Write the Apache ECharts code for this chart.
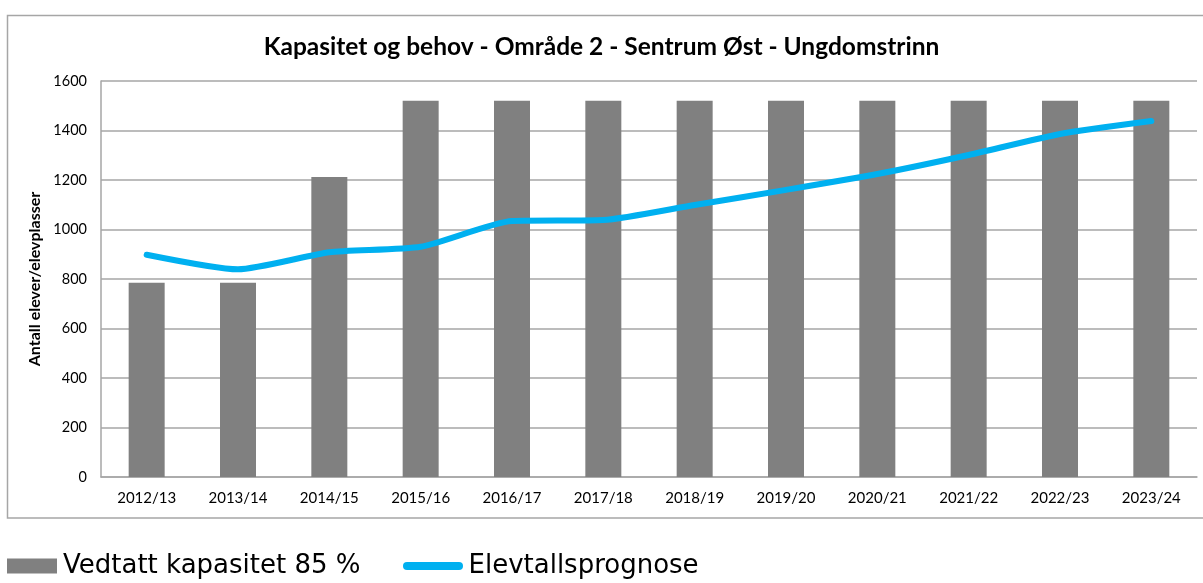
<!DOCTYPE html>
<html>
<head>
<meta charset="utf-8">
<script src="https://cdn.jsdelivr.net/npm/echarts@6/dist/echarts.min.js"></script>
<style>
html,body{margin:0;padding:0;background:#fff;}
#chart{width:1203px;height:583px;}
</style>
</head>
<body>
<div id="chart"></div>
<script>
var categories = ['2012/13','2013/14','2014/15','2015/16','2016/17','2017/18','2018/19','2019/20','2020/21','2021/22','2022/23','2023/24'];
var capacity = [785, 785, 1212, 1520, 1520, 1520, 1520, 1520, 1520, 1520, 1520, 1520];
var forecast = [898, 839, 908, 930, 1034, 1038, 1099, 1160, 1224, 1301, 1386, 1438];
var yTicks = [0, 200, 400, 600, 800, 1000, 1200, 1400, 1600];
var titleText = 'Kapasitet og behov - Område 2 - Sentrum Øst - Ungdomstrinn';
var yAxisName = 'Antall elever/elevplasser';
var seriesNames = ['Vedtatt kapasitet 85 %', 'Elevtallsprognose'];

var chart = echarts.init(document.getElementById('chart'), null, {renderer: 'canvas'});
var gridColor = '#a6a6a6';
chart.setOption({
  animation: false,
  backgroundColor: '#fff',
  graphic: [{
    type: 'rect',
    shape: {x: 7.5, y: 15.5, width: 1210, height: 502.5},
    style: {fill: 'none', stroke: gridColor, lineWidth: 1.5},
    silent: true, z: -1
  }],
  title: {
    text: titleText,
    left: 'center',
    top: 30,
    textStyle: {fontFamily: 'Lato', fontWeight: 'bold', fontSize: 24.5, color: '#000'}
  },
  legend: [{
    data: [{name: seriesNames[0], icon: 'rect'}],
    left: 7, top: 553,
    itemWidth: 50, itemHeight: 15, itemGap: 6,
    padding: 0,
    textStyle: {fontFamily: 'DejaVu Sans', fontSize: 26, color: '#000', padding: [0,0,0,1]}
  }, {
    data: [{name: seriesNames[1], icon: 'path://M4,0 L56,0 A4,4 0 0 1 56,8 L4,8 A4,4 0 0 1 4,0 Z'}],
    left: 403, top: 553,
    itemWidth: 61, itemHeight: 8,
    padding: 0,
    textStyle: {fontFamily: 'DejaVu Sans', fontSize: 26, color: '#000', padding: [0,0,0,0]}
  }],
  grid: {left: 101, right: 6, top: 81, bottom: 106, containLabel: false},
  xAxis: {
    type: 'category',
    data: categories,
    axisLine: {show: true, lineStyle: {color: gridColor, width: 1.5}},
    axisTick: {show: false},
    axisLabel: {fontFamily: 'Lato', fontSize: 15, color: '#000', margin: 14, interval: 0}
  },
  yAxis: {
    type: 'value',
    min: 0, max: 1600, interval: 200,
    name: yAxisName,
    nameLocation: 'middle',
    nameGap: 50,
    nameTextStyle: {fontFamily: 'Lato', fontWeight: 'bold', fontSize: 16, color: '#000'},
    axisLine: {show: true, lineStyle: {color: gridColor, width: 1.5}},
    axisTick: {show: false},
    splitLine: {show: true, lineStyle: {color: gridColor, width: 1.5}},
    axisLabel: {
      fontFamily: 'Lato', fontSize: 14.5, color: '#000', margin: 14,
      formatter: function (v) { return yTicks.indexOf(v) >= 0 ? String(v) : ''; }
    }
  },
  series: [{
    name: seriesNames[0],
    type: 'bar',
    data: capacity,
    barWidth: 36,
    itemStyle: {color: '#808080'},
    z: 2
  }, {
    name: seriesNames[1],
    type: 'line',
    data: forecast,
    smooth: 0.2,
    symbol: 'none',
    lineStyle: {color: '#00b0f0', width: 6, cap: 'round', join: 'round'},
    itemStyle: {color: '#00b0f0'},
    z: 3
  }]
});
</script>
</body>
</html>
